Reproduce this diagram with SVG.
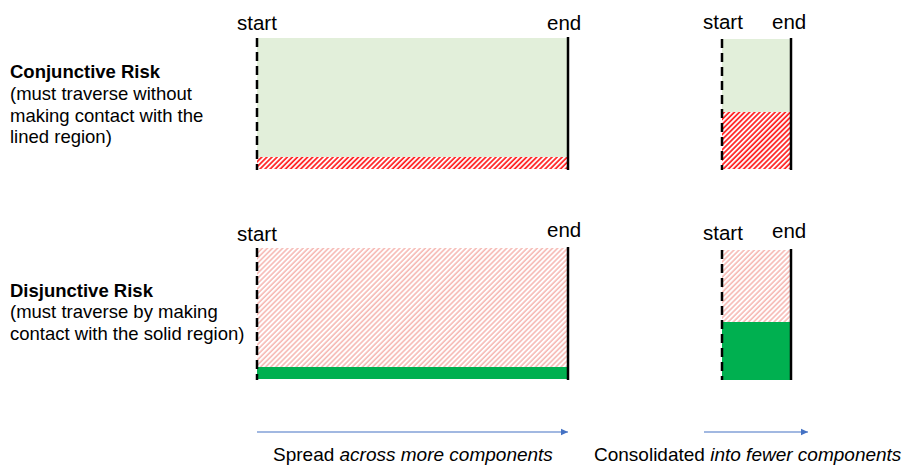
<svg xmlns="http://www.w3.org/2000/svg" width="910" height="466" viewBox="0 0 910 466">
<style>
text{font-family:"Liberation Sans",Arial,sans-serif;fill:#000}
.lbl{font-size:20.5px}
.desc{font-size:18.5px}
.b{font-weight:bold}
.cap{font-size:19px}
.it{font-style:italic}
.dash{stroke:#000;stroke-width:2.5;stroke-dasharray:9 5}
.solid{stroke:#000;stroke-width:2.5}
.lg{fill:#E2EFDA}
.g{fill:#00B050}
.rh{fill:url(#redHatch)}
.ph{fill:url(#pinkHatch)}
.arr{stroke:#4472C4;stroke-width:1.2;fill:none;marker-end:url(#ah)}
</style>
<defs>
<pattern id="redHatch" patternUnits="userSpaceOnUse" width="3.6" height="10" patternTransform="rotate(45)">
<rect width="3.6" height="10" fill="#fff"/>
<line x1="1" y1="0" x2="1" y2="10" stroke="#FF1A1A" stroke-width="1.7"/>
</pattern>
<pattern id="pinkHatch" patternUnits="userSpaceOnUse" width="3.6" height="10" patternTransform="rotate(45)">
<rect width="3.6" height="10" fill="#fff"/>
<line x1="1" y1="0" x2="1" y2="10" stroke="#F6B5AF" stroke-width="1.5"/>
</pattern>
<marker id="ah" markerWidth="8" markerHeight="8" refX="7" refY="4" orient="auto" markerUnits="userSpaceOnUse">
<path d="M0,0.8 L7,4 L0,7.2 Z" fill="#4472C4"/>
</marker>
</defs>

<g id="conj-label">
<text class="desc b" x="10" y="78">Conjunctive Risk</text>
<text class="desc" x="10" y="100">(must traverse without</text>
<text class="desc" x="10" y="122">making contact with the</text>
<text class="desc" x="10" y="143">lined region)</text>
</g>
<g id="disj-label">
<text class="desc b" x="10" y="297">Disjunctive Risk</text>
<text class="desc" x="10" y="318">(must traverse by making</text>
<text class="desc" x="10" y="340">contact with the solid region)</text>
</g>

<g id="conj-spread">
<rect class="lg" x="257" y="38" width="310" height="119"/>
<rect class="rh" x="257" y="157" width="310" height="12"/>
<line class="dash" x1="257" y1="38" x2="257" y2="170"/>
<line class="solid" x1="568" y1="37" x2="568" y2="170"/>
<text class="lbl" x="237" y="30">start</text>
<text class="lbl" x="547" y="30">end</text>
</g>

<g id="conj-consolidated">
<rect class="lg" x="722" y="39" width="69" height="73"/>
<rect class="rh" x="722" y="112" width="69" height="57"/>
<line class="dash" x1="722" y1="39" x2="722" y2="170"/>
<line class="solid" x1="791" y1="38" x2="791" y2="170"/>
<text class="lbl" x="703" y="29">start</text>
<text class="lbl" x="772" y="29">end</text>
</g>

<g id="disj-spread">
<rect class="ph" x="257" y="248" width="310" height="119"/>
<rect class="g" x="257" y="367" width="310" height="12"/>
<line class="dash" x1="257" y1="248" x2="257" y2="380"/>
<line class="solid" x1="568" y1="247" x2="568" y2="380"/>
<text class="lbl" x="237" y="241">start</text>
<text class="lbl" x="547" y="237">end</text>
</g>

<g id="disj-consolidated">
<rect class="ph" x="722" y="250" width="69" height="72"/>
<rect class="g" x="722" y="322" width="69" height="58"/>
<line class="dash" x1="722" y1="250" x2="722" y2="380"/>
<line class="solid" x1="791" y1="249" x2="791" y2="380"/>
<text class="lbl" x="703" y="240">start</text>
<text class="lbl" x="772" y="238">end</text>
</g>

<g id="connectors">
<line class="arr" x1="257" y1="432" x2="568" y2="432"/>
<line class="arr" x1="704" y1="432" x2="808" y2="432"/>
</g>

<g id="captions">
<text class="cap" x="273" y="461">Spread <tspan class="it">across more components</tspan></text>
<text class="cap" x="594" y="461">Consolidated <tspan class="it">into fewer components</tspan></text>
</g>
</svg>
